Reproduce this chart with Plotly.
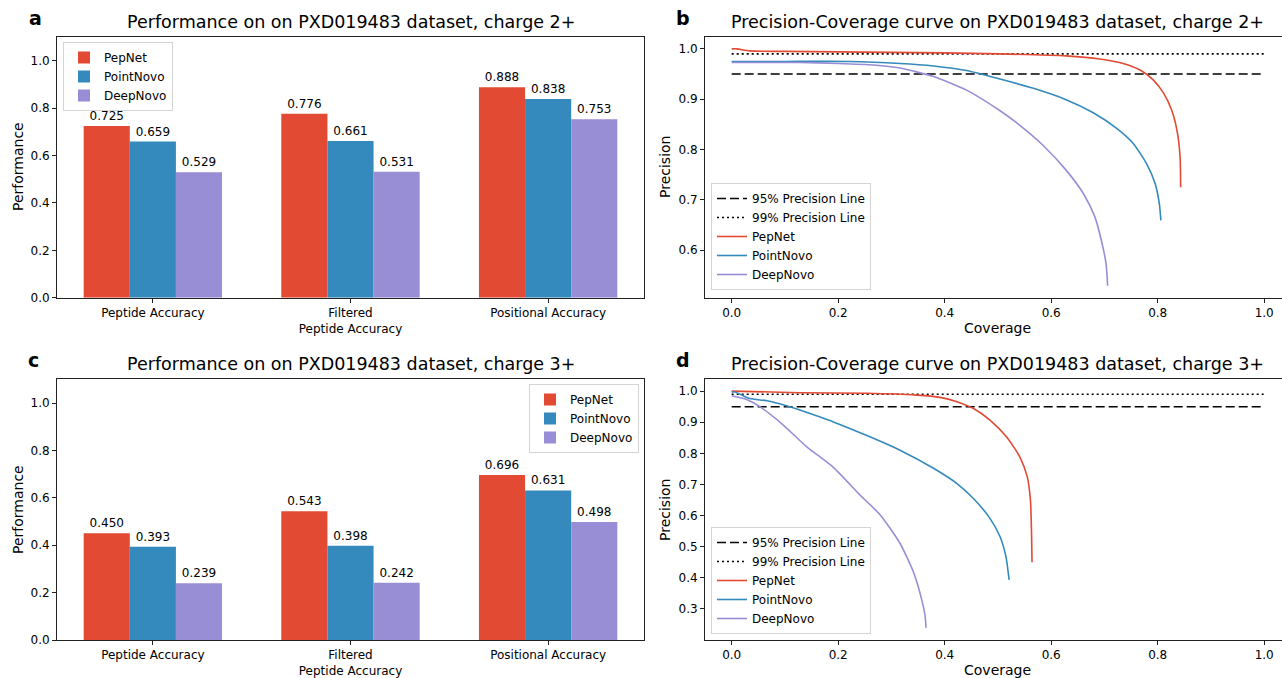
import plotly.graph_objects as go

# ---------------- data ----------------
categories = ["Peptide Accuracy", "Filtered<br>Peptide Accuracy", "Positional Accuracy"]
models = ["PepNet", "PointNovo", "DeepNovo"]
colors = {"PepNet": "#E24A33", "PointNovo": "#348ABD", "DeepNovo": "#988ED5"}

bars_2 = {
    "PepNet": [0.725, 0.776, 0.888],
    "PointNovo": [0.659, 0.661, 0.838],
    "DeepNovo": [0.529, 0.531, 0.753],
}
bars_3 = {
    "PepNet": [0.450, 0.543, 0.696],
    "PointNovo": [0.393, 0.398, 0.631],
    "DeepNovo": [0.239, 0.242, 0.498],
}

# precision-coverage curves, charge 2+
pep2_cov = [0.0, 0.01, 0.034, 0.1, 0.2, 0.3, 0.4, 0.504, 0.628, 0.691, 0.735, 0.767, 0.792, 0.811, 0.826, 0.836, 0.842, 0.843]
pep2_prec = [1.0, 1.0, 0.996, 0.995, 0.994, 0.993, 0.992, 0.990, 0.986, 0.980, 0.971, 0.958, 0.938, 0.912, 0.879, 0.839, 0.786, 0.725]
pn2_cov = [0.0, 0.1, 0.22, 0.316, 0.379, 0.441, 0.504, 0.565, 0.628, 0.679, 0.723, 0.754, 0.779, 0.795, 0.803, 0.806]
pn2_prec = [0.975, 0.975, 0.975, 0.971, 0.966, 0.957, 0.940, 0.922, 0.899, 0.873, 0.842, 0.812, 0.772, 0.733, 0.693, 0.659]
dn2_cov = [0.0, 0.128, 0.2, 0.266, 0.316, 0.379, 0.441, 0.504, 0.540, 0.584, 0.628, 0.660, 0.682, 0.694, 0.703, 0.706]
dn2_prec = [0.973, 0.973, 0.971, 0.968, 0.962, 0.945, 0.918, 0.877, 0.849, 0.809, 0.759, 0.713, 0.666, 0.620, 0.573, 0.529]

# precision-coverage curves, charge 3+
pep3_cov = [0.0, 0.128, 0.254, 0.347, 0.391, 0.423, 0.454, 0.485, 0.516, 0.541, 0.555, 0.561, 0.563, 0.564]
pep3_prec = [1.0, 0.995, 0.993, 0.987, 0.980, 0.966, 0.944, 0.907, 0.853, 0.789, 0.725, 0.65, 0.55, 0.450]
pn3_cov = [0.0, 0.005, 0.034, 0.066, 0.103, 0.128, 0.191, 0.254, 0.316, 0.379, 0.423, 0.454, 0.485, 0.504, 0.515, 0.521]
pn3_prec = [0.996, 0.998, 0.976, 0.969, 0.953, 0.939, 0.901, 0.857, 0.81, 0.752, 0.703, 0.655, 0.591, 0.532, 0.468, 0.393]
dn3_cov = [0.0, 0.028, 0.053, 0.097, 0.141, 0.191, 0.241, 0.279, 0.316, 0.341, 0.357, 0.363, 0.365]
dn3_prec = [0.985, 0.973, 0.95, 0.891, 0.821, 0.755, 0.666, 0.602, 0.511, 0.42, 0.329, 0.28, 0.239]

ref_x = [0.0, 1.0]
ref95 = [0.95, 0.95]
ref99 = [0.99, 0.99]

W, H = 1282, 678
FONT = "DejaVu Sans"


def px(x):
    return x / W


def py(y):
    return 1 - y / H


fig = go.Figure()

# ---------------- bar panels ----------------
for data, xa, ya, lg in [(bars_2, "x", "y", "legend"), (bars_3, "x3", "y3", "legend3")]:
    for m in models:
        fig.add_trace(go.Bar(
            x=[0, 1, 2], y=data[m], name=m, marker=dict(color=colors[m], line=dict(width=0)),
            text=[f"{v:.3f}" for v in data[m]], textposition="outside",
            textfont=dict(size=12, color="black", family=FONT), cliponaxis=False,
            xaxis=xa, yaxis=ya, legend=lg, hoverinfo="skip"))

# ---------------- curve panels ----------------
curves = [
    ("x2", "y2", "legend2", [(pep2_cov, pep2_prec), (pn2_cov, pn2_prec), (dn2_cov, dn2_prec)]),
    ("x4", "y4", "legend4", [(pep3_cov, pep3_prec), (pn3_cov, pn3_prec), (dn3_cov, dn3_prec)]),
]
for xa, ya, lg, sets in curves:
    fig.add_trace(go.Scatter(x=ref_x, y=ref95, mode="lines", name="95% Precision Line",
                             line=dict(color="black", width=1.6, dash="9px,4px"),
                             xaxis=xa, yaxis=ya, legend=lg))
    fig.add_trace(go.Scatter(x=ref_x, y=ref99, mode="lines", name="99% Precision Line",
                             line=dict(color="black", width=1.6, dash="2px,3px"),
                             xaxis=xa, yaxis=ya, legend=lg))
    for m, (cx, cy) in zip(models, sets):
        fig.add_trace(go.Scatter(x=cx, y=cy, mode="lines", name=m,
                                 line=dict(color=colors[m], width=1.6, shape="spline", smoothing=0.6),
                                 xaxis=xa, yaxis=ya, legend=lg))

# ---------------- axes ----------------
dom_left = [px(57), px(644)]
dom_right = [px(705), 1.0]
dom_top = [py(297.7), py(37)]
dom_bot = [py(640), py(379.3)]

axis_common = dict(showline=True, linecolor="#222", linewidth=1, ticks="outside", ticklen=4,
                   tickcolor="#222", showgrid=False, zeroline=False, automargin=False,
                   tickfont=dict(size=12, family=FONT, color="black"))

bar_x = dict(axis_common, range=[-0.485, 2.485], tickvals=[0, 1, 2], ticktext=categories, mirror=True)
curve_x = dict(axis_common, range=[-0.0501, 1.0334], tickvals=[0, 0.2, 0.4, 0.6, 0.8, 1.0],
               tickformat=".1f", mirror=True)

fig.update_layout(
    xaxis=dict(bar_x, domain=dom_left, anchor="y"),
    yaxis=dict(axis_common, domain=dom_top, anchor="x", range=[0, 1.1],
               tickvals=[0, 0.2, 0.4, 0.6, 0.8, 1.0], tickformat=".1f", mirror=True),
    xaxis2=dict(curve_x, domain=dom_right, anchor="y2"),
    yaxis2=dict(axis_common, domain=dom_top, anchor="x2", range=[0.5054, 1.0236],
                tickvals=[0.6, 0.7, 0.8, 0.9, 1.0], tickformat=".1f"),
    xaxis3=dict(bar_x, domain=dom_left, anchor="y3"),
    yaxis3=dict(axis_common, domain=dom_bot, anchor="x3", range=[0, 1.1],
                tickvals=[0, 0.2, 0.4, 0.6, 0.8, 1.0], tickformat=".1f", mirror=True),
    xaxis4=dict(curve_x, domain=dom_right, anchor="y4"),
    yaxis4=dict(axis_common, domain=dom_bot, anchor="x4", range=[0.2, 1.038],
                tickvals=[0.3, 0.4, 0.5, 0.6, 0.7, 0.8, 0.9, 1.0], tickformat=".1f"),
    barmode="group", bargap=0.3, bargroupgap=0.0,
    width=W, height=H, margin=dict(l=0, r=0, t=0, b=0),
    paper_bgcolor="white", plot_bgcolor="white",
    font=dict(family=FONT, size=12, color="black"),
)

legend_common = dict(bgcolor="rgba(255,255,255,0.85)", bordercolor="#d4d4d4", borderwidth=1,
                     font=dict(size=12, family=FONT, color="black"), tracegroupgap=0,
                     itemclick=False, itemdoubleclick=False)
fig.update_layout(
    legend=dict(legend_common, x=px(63), y=py(42), xanchor="left", yanchor="top"),
    legend3=dict(legend_common, x=px(639), y=py(384), xanchor="right", yanchor="top"),
    legend2=dict(legend_common, x=px(711), y=py(290), xanchor="left", yanchor="bottom"),
    legend4=dict(legend_common, x=px(711), y=py(634), xanchor="left", yanchor="bottom"),
)

# ---------------- text ----------------
ann = []


def add_text(text, x, y, size, xanchor="center", yanchor="middle", bold=False, angle=0):
    ann.append(dict(text=f"<b>{text}</b>" if bold else text, x=px(x), y=py(y), xref="paper", yref="paper",
                    showarrow=False, xanchor=xanchor, yanchor=yanchor, textangle=angle,
                    font=dict(size=size, family=FONT, color="black")))


add_text("Performance on on PXD019483 dataset, charge 2+", 351, 22, 17.5)
add_text("Precision-Coverage curve on PXD019483 dataset, charge 2+", 997.5, 22, 17.5)
add_text("Performance on on PXD019483 dataset, charge 3+", 351, 364, 17.5)
add_text("Precision-Coverage curve on PXD019483 dataset, charge 3+", 997.5, 364, 17.5)
add_text("a", 35, 18, 19, bold=True)
add_text("b", 683, 18, 19, bold=True)
add_text("c", 33, 360, 19, bold=True)
add_text("d", 683, 360, 19, bold=True)
add_text("Performance", 18, 167, 14, angle=-90)
add_text("Performance", 18, 510, 14, angle=-90)
add_text("Precision", 665, 167, 14, angle=-90)
add_text("Precision", 665, 510, 14, angle=-90)
add_text("Coverage", 997.5, 328, 14)
add_text("Coverage", 997.5, 670, 14)
fig.update_layout(annotations=ann)

fig.write_html("out.html", config={"displayModeBar": False},
               post_script="document.body.style.margin='0px';document.body.style.overflow='hidden';")
